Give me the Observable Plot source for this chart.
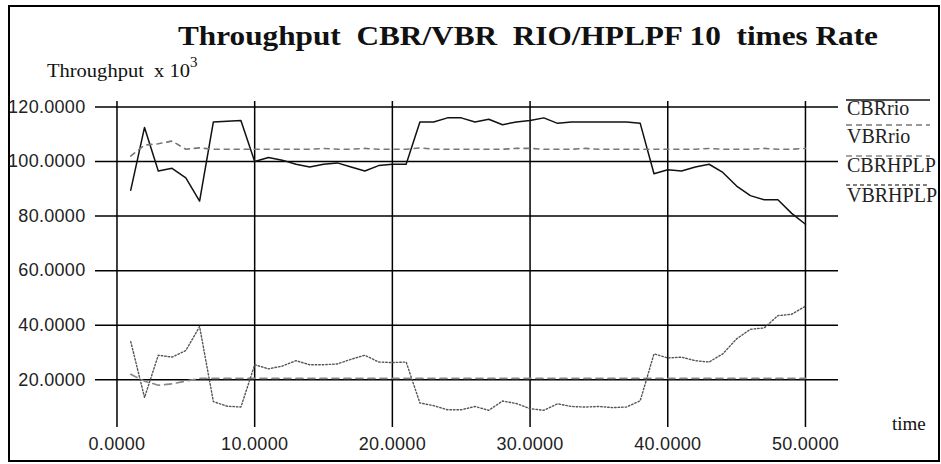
<!DOCTYPE html>
<html>
<head>
<meta charset="utf-8">
<script src="https://cdn.jsdelivr.net/npm/d3@7"></script>
<script src="https://cdn.jsdelivr.net/npm/@observablehq/plot@0.6"></script>
<style>
  html, body { margin: 0; padding: 0; background: #fff; }
  #wrap { position: relative; width: 941px; height: 464px; overflow: hidden; background: #fff; }
  #wrap > svg { position: absolute; left: 0; top: 0; }
  #border { position: absolute; left: 8px; top: 5px; width: 928px; height: 453px; border: 2px solid #000; box-sizing: content-box; pointer-events: none; }
</style>
</head>
<body>
<div id="wrap"><div id="border"></div></div>
<script>
const time = [1,2,3,4,5,6,7,8,9,10,11,12,13,14,15,16,17,18,19,20,21,22,23,24,25,26,27,28,29,30,31,32,33,34,35,36,37,38,39,40,41,42,43,44,45,46,47,48,49,50];

const cbrRio = [89.5,112.5,96.5,97.5,94,85.5,114.5,114.8,115,100,101.5,100.5,99,98,99,99.5,98,96.5,98.5,99,99,114.5,114.5,116,116,114.5,115.5,113.5,114.5,115,116,114,114.5,114.5,114.5,114.5,114.5,114,95.5,97,96.5,98,99,96,91,87.5,86,86,81,77];

const vbrRio = [102,106,106.5,107.5,104.5,105,104.5,104.5,104.5,104.5,104.5,104.5,104.5,104.5,104.8,104.5,104.5,104.8,104.5,104.5,104.5,105,104.5,104.5,104.5,104.5,104.5,104.5,104.8,104.8,104.5,104.5,104.5,104.8,104.5,104.5,104.5,104.5,104.5,104.5,104.5,104.5,104.8,104.5,104.5,104.5,104.8,104.5,104.5,104.8];

const cbrHplp = [22,19.5,18,18.5,19.5,20.5,20.5,20.5,20.5,20.5,20.5,20.5,20.5,20.5,20.5,20.5,20.5,20.5,20.5,20.5,20.5,20.5,20.5,20.5,20.5,20.5,20.5,20.5,20.5,20.5,20.5,20.5,20.5,20.5,20.5,20.5,20.5,20.5,20.5,20.5,20.5,20.5,20.5,20.5,20.5,20.5,20.5,20.5,20.5,20.5];

const vbrHplp = [34,13.5,29,28.3,30.7,39.5,12,10.3,10,25.5,24,25,27,25.5,25.5,25.8,27.5,29,26.5,26.3,26.5,11.5,10.5,9,9,10.2,8.8,12.2,11.3,9.4,8.8,11.2,10.2,10,10.2,9.8,10,12.3,29.5,28,28.3,27,26.5,29.5,35,38.5,39,43.5,44,47];

const xTicks = [0, 10, 20, 30, 40, 50];
const yTicks = [20, 40, 60, 80, 100, 120];
const seriesNames = ["CBRrio", "VBRrio", "CBRHPLP", "VBRHPLP"];
const titleText = "Throughput  CBR/VBR  RIO/HPLPF 10  times Rate";
const yLabelText = "Throughput  x 10";
const xLabelText = "time";

const styles = {
  CBRrio: {stroke: "#111", strokeWidth: 1.5, dash: null},
  VBRrio: {stroke: "#777", strokeWidth: 1.6, dash: "5,5"},
  CBRHPLP: {stroke: "#888", strokeWidth: 1.6, dash: "7,5"},
  VBRHPLP: {stroke: "#555", strokeWidth: 1.4, dash: "1.5,2"}
};
const seriesValues = {CBRrio: cbrRio, VBRrio: vbrRio, CBRHPLP: cbrHplp, VBRHPLP: vbrHplp};

const rows = seriesNames.flatMap(name => time.map((t, i) => ({series: name, time: t, value: seriesValues[name][i]})));

const fmt = d3.format(".4f");

const lineMarks = seriesNames.map(name => Plot.line(rows.filter(d => d.series === name), {
  x: "time", y: "value",
  stroke: styles[name].stroke,
  strokeWidth: styles[name].strokeWidth,
  strokeDasharray: styles[name].dash,
  curve: "linear"
}));

const chart = Plot.plot({
  width: 941,
  height: 464,
  marginLeft: 95,
  marginRight: 103,
  marginTop: 101,
  marginBottom: 37,
  style: {background: "transparent", fontFamily: "'Liberation Sans', Arial, sans-serif", fontSize: "18px"},
  x: {domain: [-1.56, 52.4]},
  y: {domain: [2.5, 122]},
  marks: [
    Plot.gridX(xTicks, {stroke: "#000", strokeOpacity: 1, strokeWidth: 1.5}),
    Plot.gridY(yTicks, {stroke: "#000", strokeOpacity: 1, strokeWidth: 1.5}),
    Plot.axisX(xTicks, {tickSize: 0, tickPadding: 10, tickFormat: fmt, fontSize: 18, fill: "#222", label: null}),
    Plot.axisY(yTicks, {tickSize: 0, tickPadding: 10, tickFormat: fmt, fontSize: 18, fill: "#222", label: null}),
    ...lineMarks
  ]
});
d3.select(chart).selectAll("[aria-label^='x-axis tick label'] text, [aria-label^='y-axis tick label'] text")
  .style("letter-spacing", "0.3px");
document.getElementById("wrap").appendChild(chart);

// Overlay: title, axis labels, legend
const ov = d3.select("#wrap").append("svg")
  .attr("width", 941).attr("height", 464)
  .style("position", "absolute").style("left", 0).style("top", 0);

const serif = "'Liberation Serif', 'Times New Roman', serif";

ov.append("text")
  .attr("x", 178).attr("y", 45)
  .attr("textLength", 700).attr("lengthAdjust", "spacingAndGlyphs")
  .attr("font-family", serif)
  .attr("font-weight", "bold").attr("font-size", 27)
  .style("white-space", "pre")
  .attr("fill", "#111")
  .text(titleText);

const yl = ov.append("text")
  .attr("x", 47).attr("y", 77)
  .attr("font-family", serif)
  .attr("font-size", 19).style("white-space", "pre")
  .attr("fill", "#111");
yl.append("tspan").attr("textLength", 143).attr("lengthAdjust", "spacingAndGlyphs").text(yLabelText);
yl.append("tspan").attr("dy", -10).attr("font-size", 15).text("3");

ov.append("text")
  .attr("x", 892).attr("y", 430)
  .attr("font-family", serif)
  .attr("font-size", 19).attr("fill", "#111")
  .text(xLabelText);

const legendBase = [115, 143, 172, 202];
const legendOver = [100, 125, 156, 185];
seriesNames.forEach((name, i) => {
  const st = styles[name];
  ov.append("line")
    .attr("x1", 846).attr("x2", 930)
    .attr("y1", legendOver[i]).attr("y2", legendOver[i])
    .attr("stroke", i === 0 ? "#111" : st.stroke)
    .attr("stroke-width", 1.4)
    .attr("stroke-dasharray", i === 0 ? null : (i === 3 ? "4,3" : "6,4"));
  ov.append("text")
    .attr("x", 847).attr("y", legendBase[i])
    .attr("font-family", serif)
    .attr("font-size", 20).attr("fill", "#222")
    .text(name);
});
</script>
</body>
</html>
